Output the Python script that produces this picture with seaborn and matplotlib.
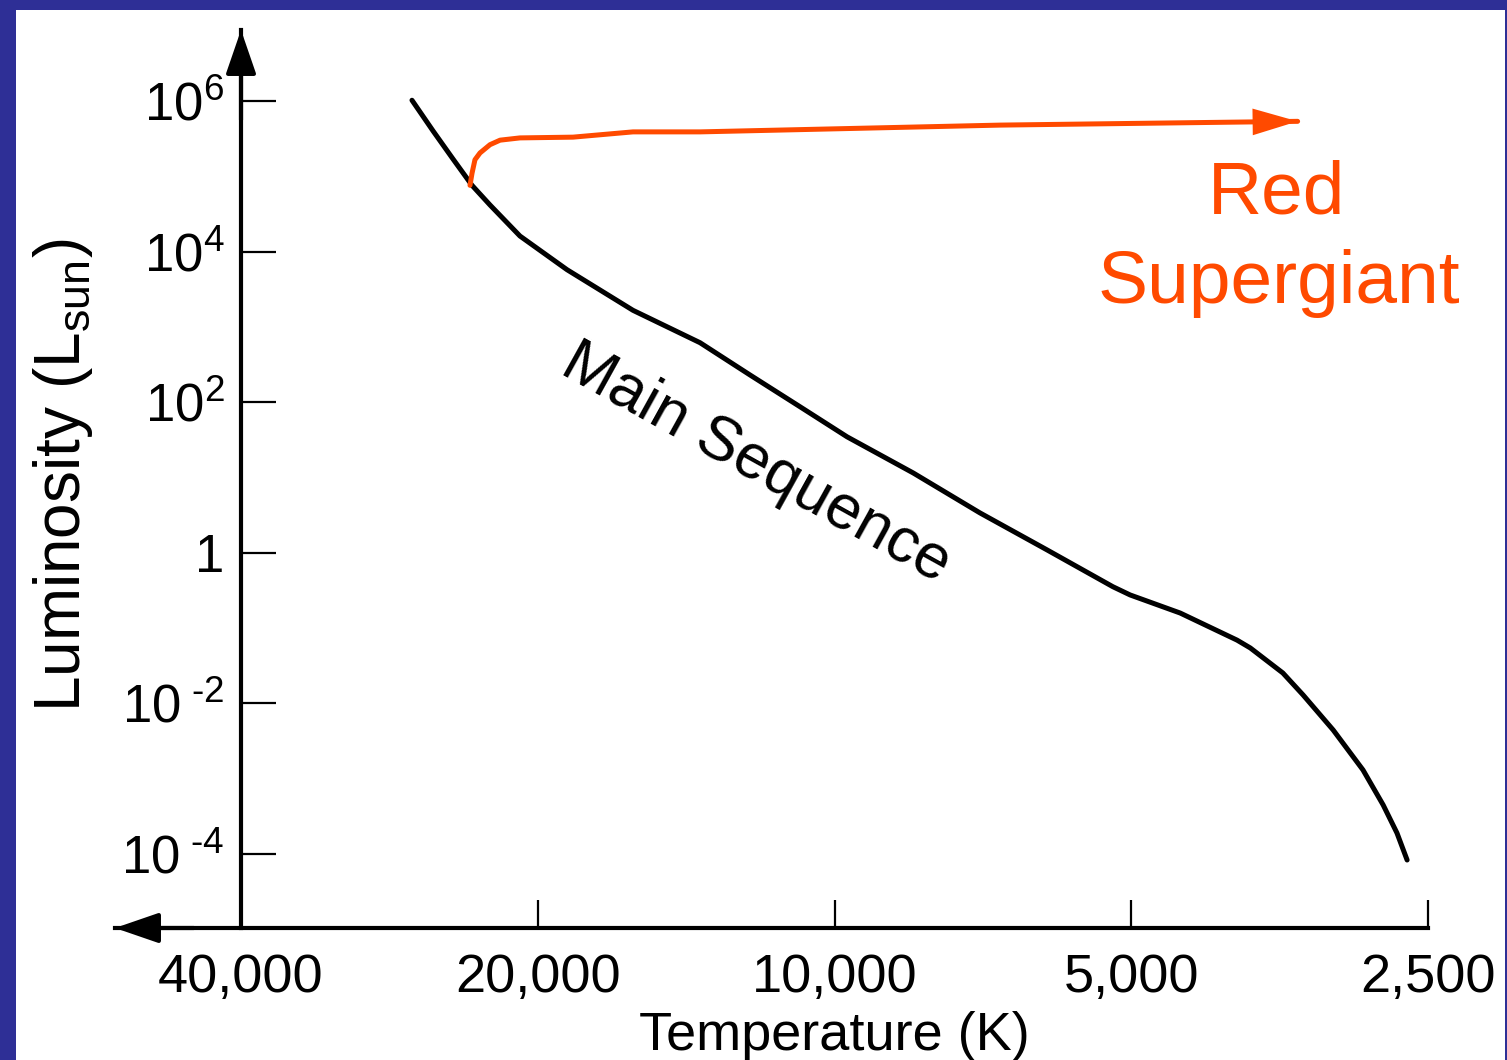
import numpy as np
import pandas as pd
import matplotlib
matplotlib.use("Agg")
import matplotlib.pyplot as plt
from matplotlib.patches import Rectangle
from matplotlib.ticker import NullLocator
import seaborn as sns

# ---------------- data ----------------
ms_temp = [26830, 25540, 24380, 23320, 22360, 20850, 18680, 16010, 13690, 12180,
           10840, 9710, 8320, 7120, 6090, 5220, 5013, 4460, 3905, 3786,
           3509, 3347, 3120, 2910, 2776, 2688, 2625]
ms_loglum = [6.01, 5.602, 5.230, 4.88, 4.619, 4.207, 3.76, 3.22, 2.79, 2.361,
             1.94, 1.54, 1.06, 0.53, 0.04, -0.45, -0.56, -0.80, -1.16, -1.264,
             -1.596, -1.888, -2.353, -2.884, -3.349, -3.721, -4.08]

rsg_temp = [23430, 23320, 23160, 22890, 22360, 21840, 20850, 18420, 16010,
            13690, 6790, 3390]
rsg_loglum = [4.88, 5.04, 5.22, 5.31, 5.42, 5.48, 5.51, 5.52, 5.59,
              5.59, 5.68, 5.73]

x_ticks = [40000, 20000, 10000, 5000, 2500]
x_tick_labels = ["40,000", "20,000", "10,000", "5,000", "2,500"]
y_ticks = [1e-4, 1e-2, 1, 1e2, 1e4, 1e6]
y_tick_labels = [r"$10^{\text{ -4}}$", r"$10^{\text{ -2}}$", "1",
                 r"$10^{2}$", r"$10^{4}$", r"$10^{6}$"]

x_label = "Temperature (K)"
y_label = r"Luminosity (L$_{\mathrm{sun}}$)"
ms_text = "Main Sequence"
rsg_text = ["Red", "Supergiant"]

ms_df = pd.DataFrame({"T": ms_temp, "L": 10.0 ** np.array(ms_loglum)})
rsg_df = pd.DataFrame({"T": rsg_temp, "L": 10.0 ** np.array(rsg_loglum)})

# ---------------- style ----------------
sns.set_theme(style="white")
plt.rcParams["font.family"] = ["Liberation Sans", "DejaVu Sans"]
plt.rcParams["mathtext.fontset"] = "custom"
plt.rcParams["mathtext.rm"] = "Liberation Sans"
plt.rcParams["mathtext.it"] = "Liberation Sans:italic"
plt.rcParams["mathtext.bf"] = "Liberation Sans:bold"
plt.rcParams["mathtext.default"] = "regular"

BLUE = "#2e2f96"
ORANGE = "#ff4a00"

W, H = 1507, 1060
fig = plt.figure(figsize=(W / 100, H / 100), dpi=100, facecolor=BLUE)
fig.patches.append(Rectangle((16 / W, 0), (1505 - 16) / W, (H - 10) / H,
                             transform=fig.transFigure, facecolor="white",
                             edgecolor="none", zorder=-10))

ax = fig.add_axes([115 / W, 1 - 928 / H, (1428 - 115) / W, (928 - 30) / H])
ax.patch.set_visible(False)

sns.lineplot(data=ms_df, x="T", y="L", ax=ax, color="black", linewidth=3.6,
             sort=False, estimator=None, solid_joinstyle="round",
             solid_capstyle="round")
sns.lineplot(data=rsg_df, x="T", y="L", ax=ax, color=ORANGE, linewidth=3.6,
             sort=False, estimator=None, solid_joinstyle="round")

ax.set_xscale("log")
ax.set_yscale("log")
ax.set_xlim(53690, 2500)
ax.set_ylim(10 ** -4.983, 10 ** 6.943)

# red supergiant arrowhead along the last segment
ax.annotate("", xy=(rsg_df["T"].iloc[-1], rsg_df["L"].iloc[-1]),
            xytext=(rsg_df["T"].iloc[-2], rsg_df["L"].iloc[-2]),
            arrowprops=dict(arrowstyle="-|>,head_length=1.08,head_width=0.32",
                            mutation_scale=30, color=ORANGE, lw=0,
                            shrinkA=0, shrinkB=0))

# spines
for s in ["top", "right"]:
    ax.spines[s].set_visible(False)
ax.spines["left"].set_position(("data", 40000))
for s in ["left", "bottom"]:
    ax.spines[s].set_linewidth(3.0)
    ax.spines[s].set_color("black")

# axis arrows
ax.annotate("", xy=(40000, 1.0), xycoords=("data", "axes fraction"),
            xytext=(40000, 0.9), textcoords=("data", "axes fraction"),
            arrowprops=dict(arrowstyle="-|>,head_length=0.9,head_width=0.31",
                            mutation_scale=30, color="black", lw=3.0,
                            shrinkA=0, shrinkB=0))
ax.annotate("", xy=(0.0, 0.0), xycoords="axes fraction",
            xytext=(0.06, 0.0), textcoords="axes fraction",
            arrowprops=dict(arrowstyle="-|>,head_length=0.9,head_width=0.31",
                            mutation_scale=30, color="black", lw=3.0,
                            shrinkA=0, shrinkB=0))

# ticks
ax.set_xticks(x_ticks)
ax.set_xticklabels(x_tick_labels)
ax.set_yticks(y_ticks)
ax.set_yticklabels(y_tick_labels)
ax.xaxis.set_minor_locator(NullLocator())
ax.yaxis.set_minor_locator(NullLocator())
ax.tick_params(axis="x", direction="in", length=20, width=1.6, pad=18,
               labelsize=39, colors="black", bottom=True)
ax.tick_params(axis="y", direction="in", length=25, width=1.6, pad=12,
               labelsize=38, colors="black", left=True)

ax.set_xlabel(x_label, fontsize=39, color="black")
ax.xaxis.set_label_coords(0.548, -0.092)
ax.set_ylabel(y_label, fontsize=46, color="black")
ax.yaxis.set_label_coords(-0.015, 0.504)

# text annotations
ax.text(0.488, 0.517, ms_text, transform=ax.transAxes, fontsize=45,
        rotation=-29, rotation_mode="anchor", ha="center", va="center",
        color="black")
ax.text(0.885, 0.796, rsg_text[0], transform=ax.transAxes, fontsize=54,
        ha="center", va="baseline", color=ORANGE)
ax.text(0.886, 0.696, rsg_text[1], transform=ax.transAxes, fontsize=54,
        ha="center", va="baseline", color=ORANGE)

fig.savefig("out.png", dpi=100, facecolor=BLUE)
